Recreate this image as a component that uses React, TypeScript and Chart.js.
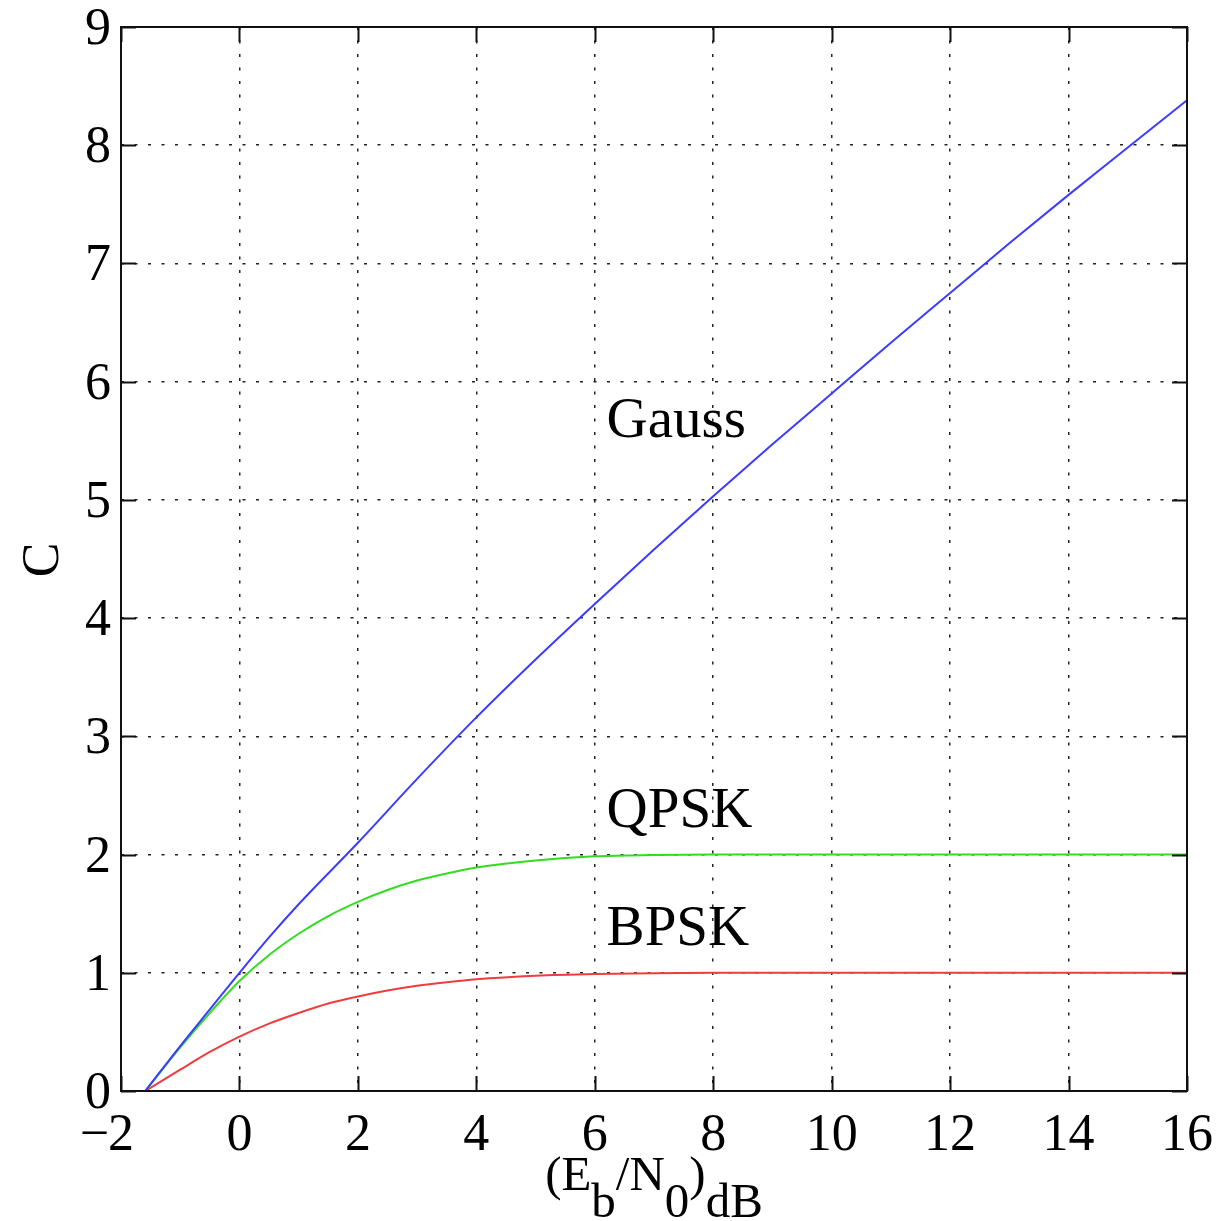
import React, { useEffect, useRef } from "react";
import { Chart, registerables } from "chart.js";

Chart.register(...registerables);

// Eb/N0 (dB) sample positions and capacity values
const gaussX = [-1.59, -1, -0.5, 0, 0.5, 1, 2, 3, 4, 5, 6, 7, 8, 9, 10, 11, 12, 13, 14, 15, 16];
const gaussC = [0, 0.38, 0.69, 1.0, 1.3, 1.58, 2.1, 2.64, 3.16, 3.65, 4.12, 4.58, 5.03, 5.47, 5.9, 6.33, 6.75, 7.17, 7.58, 7.98, 8.38];

const qpskX = [-1.59, -1, -0.5, 0, 0.5, 1, 1.5, 2, 2.5, 3, 3.5, 4, 5, 6, 7, 8, 10, 12, 14, 16];
const qpskC = [0, 0.37, 0.66, 0.93, 1.15, 1.33, 1.48, 1.6, 1.7, 1.78, 1.84, 1.89, 1.95, 1.985, 1.996, 2, 2, 2, 2, 2];

const bpskX = [-1.59, -1, -0.5, 0, 0.5, 1, 1.5, 2, 2.5, 3, 3.5, 4, 5, 6, 7, 8, 10, 12, 14, 16];
const bpskC = [0, 0.18, 0.33, 0.46, 0.57, 0.66, 0.74, 0.8, 0.85, 0.89, 0.92, 0.945, 0.975, 0.99, 0.997, 1, 1, 1, 1, 1];

const xTicks = [-2, 0, 2, 4, 6, 8, 10, 12, 14, 16];
const yTicks = [0, 1, 2, 3, 4, 5, 6, 7, 8, 9];

const curveLabels = [
  { text: "Gauss", x: 6.2, y: 5.53 },
  { text: "QPSK", x: 6.2, y: 2.23 },
  { text: "BPSK", x: 6.2, y: 1.235 },
];

const FONT = '"Liberation Serif", "Times New Roman", serif';

const toPoints = (xs: number[], ys: number[]) => xs.map((x, i) => ({ x, y: ys[i] }));

const overlay = {
  id: "overlay",
  afterDraw(chart: any) {
    const ctx = chart.ctx as CanvasRenderingContext2D;
    const { left, right, top, bottom } = chart.chartArea;
    const xs = chart.scales.x;
    const ys = chart.scales.y;
    ctx.save();
    // box
    ctx.strokeStyle = "#111";
    ctx.lineWidth = 2;
    ctx.setLineDash([]);
    ctx.strokeRect(left, top, right - left, bottom - top);
    // inward ticks
    const tl = 15;
    ctx.beginPath();
    xTicks.forEach((v) => {
      const px = Math.round(xs.getPixelForValue(v)) + 0.5;
      ctx.moveTo(px, bottom);
      ctx.lineTo(px, bottom - tl);
      ctx.moveTo(px, top);
      ctx.lineTo(px, top + tl);
    });
    yTicks.forEach((v) => {
      const py = Math.round(ys.getPixelForValue(v)) + 0.5;
      ctx.moveTo(left, py);
      ctx.lineTo(left + tl, py);
      ctx.moveTo(right, py);
      ctx.lineTo(right - tl, py);
    });
    ctx.stroke();

    ctx.fillStyle = "#000";
    ctx.font = `52px ${FONT}`;
    ctx.textBaseline = "alphabetic";
    // x tick labels
    xTicks.forEach((v) => {
      const px = xs.getPixelForValue(v);
      const digits = String(Math.abs(v));
      ctx.textAlign = "center";
      ctx.fillText(digits, px, 1150);
      if (v < 0) {
        const w = ctx.measureText(digits).width;
        ctx.textAlign = "right";
        ctx.fillText("\u2212", px - w / 2 + 1, 1150);
      }
    });
    // y tick labels
    ctx.textAlign = "right";
    yTicks.forEach((v) => {
      const py = ys.getPixelForValue(v);
      ctx.fillText(String(v), 111, py + 17);
    });

    // curve labels
    ctx.textAlign = "left";
    ctx.font = `57px ${FONT}`;
    curveLabels.forEach((l) => {
      ctx.fillText(l.text, xs.getPixelForValue(l.x), ys.getPixelForValue(l.y));
    });

    // y axis title
    ctx.save();
    ctx.translate(58, 560);
    ctx.rotate(-Math.PI / 2);
    ctx.textAlign = "center";
    ctx.font = `52px ${FONT}`;
    ctx.fillText("C", 0, 0);
    ctx.restore();

    // x axis title: (E_b/N_0)_dB
    const parts: { t: string; sub: boolean }[] = [
      { t: "(E", sub: false },
      { t: "b", sub: true },
      { t: "/N", sub: false },
      { t: "0", sub: true },
      { t: ")", sub: false },
      { t: "dB", sub: true },
    ];
    ctx.font = `49px ${FONT}`;
    ctx.textAlign = "left";
    const total = parts.reduce((s, p) => s + ctx.measureText(p.t).width, 0);
    let cx = 654 - total / 2;
    parts.forEach((p) => {
      ctx.fillText(p.t, cx, p.sub ? 1217 : 1190);
      cx += ctx.measureText(p.t).width;
    });
    ctx.restore();
  },
};

export default function App() {
  const ref = useRef<HTMLCanvasElement>(null);
  useEffect(() => {
    document.body.style.margin = "0";
    const canvas = ref.current!;
    const chart = new Chart(canvas, {
      type: "scatter",
      data: {
        datasets: [
          {
            label: "Gauss",
            data: toPoints(gaussX, gaussC),
            showLine: true,
            borderColor: "rgb(60,60,255)",
            borderWidth: 2,
            pointRadius: 0,
            cubicInterpolationMode: "monotone",
          },
          {
            label: "QPSK",
            data: toPoints(qpskX, qpskC),
            showLine: true,
            borderColor: "rgb(50,220,30)",
            borderWidth: 2,
            pointRadius: 0,
            cubicInterpolationMode: "monotone",
          },
          {
            label: "BPSK",
            data: toPoints(bpskX, bpskC),
            showLine: true,
            borderColor: "rgb(240,60,60)",
            borderWidth: 2,
            pointRadius: 0,
            cubicInterpolationMode: "monotone",
          },
        ],
      },
      options: {
        responsive: false,
        animation: false,
        layout: { padding: { top: 27, right: 40, left: 0, bottom: 0 } },
        plugins: { legend: { display: false }, tooltip: { enabled: false } },
        scales: {
          x: {
            type: "linear",
            min: -2,
            max: 16,
            ticks: { display: false, stepSize: 2 },
            grid: { color: "#222", lineWidth: 1.5, drawTicks: false },
            border: { display: false, dash: [3, 10.5] },
            afterFit: (s: any) => {
              s.height = 130;
            },
          },
          y: {
            type: "linear",
            min: 0,
            max: 9,
            ticks: { display: false, stepSize: 1 },
            grid: { color: "#222", lineWidth: 1.5, drawTicks: false },
            border: { display: false, dash: [3, 10.5] },
            afterFit: (s: any) => {
              s.width = 121;
            },
          },
        },
      },
      plugins: [overlay],
    } as any);
    return () => chart.destroy();
  }, []);
  return (
    <canvas
      ref={ref}
      width={1227}
      height={1221}
      style={{ display: "block", width: 1227, height: 1221 }}
    />
  );
}
